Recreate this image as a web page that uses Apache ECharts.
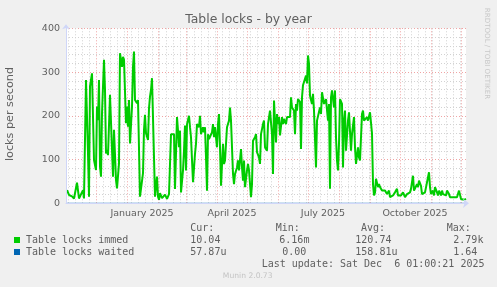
<!DOCTYPE html>
<html><head><meta charset="utf-8">
<script src="https://cdn.jsdelivr.net/npm/echarts@6/dist/echarts.min.js"></script>
<style>html,body{margin:0;padding:0;background:#f0f0f0}#c{width:497px;height:287px}</style>
</head><body><div id="c"></div>
<script>
// ---- data ----
const startDate = '2024-11-01';
const dayCount = 401;
const xLabelDays = ['2025-01-16', '2025-04-16', '2025-07-16', '2025-10-16'];
const xLabelTexts = ['January 2025', 'April 2025', 'July 2025', 'October 2025'];
const yTicks = [0, 100, 200, 300, 400];

// day offsets from startDate
const days = [1,3,5,6,8,10,11,13,15,17,18,20,22,23,24,26,27,28,30,31,32,33,34,35,36,38,39,40,41,42,44,45,46,47,48,50,51,53,54,55,56,57,58,60,61,62,63,64,66,67,68,69,71,72,74,75,77,78,79,80,82,83,84,85,86,88,89,90,91,92,93,94,96,98,99,
101,103,105,107,108,109,111,112,113,114,115,117,118,119,120,121,123,124,125,127,129,130,131,133,134,135,137,138,139,140,141,142,143,145,146,147,148,149,151,152,153,154,155,157,158,159,160,161,163,164,165,167,168,169,171,172,173,175,176,177,178,179,181,182,183,185,186,187,189,190,191,193,194,195,197,198,199,201,202,203,
204,206,207,208,210,211,212,213,214,216,217,218,220,221,222,224,225,226,228,229,230,231,232,234,235,236,237,238,240,241,242,243,244,246,247,248,250,251,252,254,255,256,258,259,260,262,263,264,265,266,268,269,270,271,272,273,274,276,277,278,279,280,282,283,284,285,286,288,289,290,292,293,294,296,297,298,300,301,302,304,305,306,307,308,309,310,312,313,314,
315,316,317,319,320,321,323,324,325,327,328,329,331,332,333,335,336,337,339,340,341,343,344,345,347,348,349,351,352,353,355,356,357,359,360,361,363,364,365,367,368,369,371,372,373,375,376,377,379,380,381,383,384,385,387,388,389,391,392,393,394,395,397,398,399,400];
// Table locks immed (locks per second)
const immed = [30,19,20,16,11,12,47,11,11,30,11,282,114,15,267,297,300,99,76,221,190,282,84,61,206,328,259,114,122,110,248,248,245,61,168,53,34,91,343,328,312,335,328,183,221,175,236,137,221,312,347,236,229,236,15,15,69,168,202,160,145,217,244,259,286,286,15,38,61,15,8,23,12,8,20,
10,21,158,158,158,33,197,166,128,166,25,75,120,178,75,181,200,174,151,48,113,136,181,174,200,158,174,162,174,105,29,158,147,147,162,181,151,174,128,181,204,128,40,136,90,98,136,174,189,219,189,67,44,67,82,98,75,124,82,52,98,37,75,90,75,14,44,143,151,158,117,105,90,158,181,189,128,120,181,185,
212,158,67,235,139,204,181,197,155,197,181,193,181,197,200,197,242,219,212,158,227,212,238,232,124,242,270,274,292,274,338,319,246,227,250,212,82,189,189,219,204,254,227,227,238,189,227,33,242,258,219,258,151,98,75,136,238,227,82,189,212,120,189,208,208,120,158,197,128,90,128,105,98,204,212,189,193,197,189,208,208,160,44,18,25,56,37,44,37,
40,29,33,29,33,21,29,14,14,18,21,25,33,18,14,18,18,25,14,18,21,18,25,33,63,29,29,44,37,52,40,21,25,25,25,21,71,37,21,29,18,37,25,18,29,18,29,21,25,18,29,21,14,14,14,14,18,14,14,29,33,10,10,8,10,10];
// Table locks waited (practically zero at this scale)
const waitedDays = [0, 400];
const waited = [0, 0];

const legendNames = ['Table locks immed', 'Table locks waited'];
const legendColors = ['#00cc00', '#0066b3'];
const statHeads = ['Cur:', 'Min:', 'Avg:', 'Max:'];
const statsImmed = ['10.04', '6.16m', '120.74', '2.79k'];
const statsWaited = ['57.87u', '0.00', '158.81u', '1.64'];
const lastUpdate = 'Last update: Sat Dec  6 01:00:21 2025';

// ---- build ----
const categories = [];
const t0 = Date.parse(startDate + 'T00:00:00Z');
for (let i = 0; i < dayCount; i++) categories.push(new Date(t0 + i * 86400000).toISOString().slice(0, 10));
const isSunday = v => new Date(v + 'T00:00:00Z').getUTCDay() === 0;
const isMonthStart = v => v.slice(8) === '01';

const FONT = 'DejaVu Sans';
const MONO = 'DejaVu Sans Mono';
const TXT = '#606060';
const AXIS = '#CFD6F8';

function hiddenX(extra) {
  return Object.assign({
    type: 'category', data: categories, boundaryGap: false,
    axisLine: {show: false}, axisTick: {show: false}, axisLabel: {show: false}, z: 0
  }, extra);
}

const statX = [190.3, 275.7, 361, 446.7];
const immedX = [190.3, 279.3, 355.3, 453.3];
const waitedX = [190.3, 282.3, 355.3, 453.3];
const graphic = [];
function txt(x, y, s, o) {
  graphic.push({type: 'text', x: x, y: y, silent: true, style: Object.assign({text: s, fill: TXT, font: '10px "' + MONO + '"', verticalAlign: 'middle'}, o || {})});
}
statHeads.forEach((h, i) => txt(statX[i], 228, h));
legendNames.forEach((n, r) => {
  const y = 240 + r * 12;
  graphic.push({type: 'rect', shape: {x: 14, y: y - 3, width: 6, height: 6}, style: {fill: legendColors[r]}, silent: true});
  txt(26, y, n);
  const vals = r === 0 ? statsImmed : statsWaited;
  const xs = r === 0 ? immedX : waitedX;
  vals.forEach((v, i) => txt(xs[i], y, v));
});
txt(261.7, 264, lastUpdate);
// title, unit, watermarks
graphic.push({type: 'text', x: 248.5, y: 19.5, silent: true, style: {text: 'Table locks - by year', fill: TXT, font: '12.4px "' + FONT + '"', align: 'center', verticalAlign: 'middle'}});
graphic.push({type: 'text', x: 10.5, y: 114, rotation: Math.PI / 2, silent: true, style: {text: 'locks per second', fill: TXT, font: '11.2px "' + FONT + '"', align: 'center', verticalAlign: 'middle'}});
graphic.push({type: 'text', x: 486.7, y: 53.5, rotation: -Math.PI / 2, silent: true, style: {text: 'RRDTOOL / TOBI OETIKER', fill: '#c8c8c8', font: '7.1px "' + FONT + '"', align: 'center', verticalAlign: 'middle'}});
graphic.push({type: 'text', x: 247.7, y: 276, silent: true, style: {text: 'Munin 2.0.73', fill: '#c4c4c4', font: '7.6px "' + FONT + '"', align: 'center', verticalAlign: 'middle'}});

const chart = echarts.init(document.getElementById('c'), null, {renderer: 'canvas'});
chart.setOption({
  animation: false,
  backgroundColor: '#f0f0f0',
  grid: {left: 66, right: 31, top: 28.3, bottom: 83.7, backgroundColor: '#ffffff', show: true, borderWidth: 0, outerBoundsMode: 'none'},
  xAxis: [
    {
      type: 'category', data: categories, boundaryGap: false, z: 10,
      axisLine: {show: true, lineStyle: {color: AXIS, width: 1}, symbol: ['none', 'arrow'], symbolSize: [7, 6], symbolOffset: [0, 3]},
      axisTick: {show: false},
      splitLine: {show: false},
      axisLabel: {
        interval: (i, v) => xLabelDays.indexOf(v) >= 0,
        formatter: v => xLabelTexts[xLabelDays.indexOf(v)] || '',
        color: TXT, fontFamily: FONT, fontSize: 9.5, margin: 5
      }
    },
    hiddenX({splitLine: {show: true, interval: (i, v) => isSunday(v) && !isMonthStart(v), lineStyle: {color: '#d2d2d2', width: 1, type: [1, 2]}}}),
    hiddenX({splitLine: {show: true, interval: (i, v) => isMonthStart(v), lineStyle: {color: '#f0a4a4', width: 1, type: [1, 2]}}})
  ],
  yAxis: [
    {
      type: 'value', min: yTicks[0], max: yTicks[yTicks.length - 1], interval: 100, z: 10,
      axisLine: {show: true, lineStyle: {color: AXIS, width: 1}, symbol: ['none', 'arrow'], symbolSize: [6, 5], symbolOffset: [0, 4]},
      axisTick: {show: false}, splitLine: {show: false},
      axisLabel: {color: TXT, fontFamily: FONT, fontSize: 9.5, margin: 6}
    },
    {
      type: 'value', min: yTicks[0], max: yTicks[yTicks.length - 1], interval: 100, z: 0,
      axisLine: {show: false}, axisTick: {show: false}, axisLabel: {show: false},
      splitLine: {show: true, lineStyle: {color: '#f0a4a4', width: 1, type: [1, 2]}},
      minorTick: {show: false, splitNumber: 5},
      minorSplitLine: {show: true, lineStyle: {color: '#d2d2d2', width: 1, type: [1, 2]}}
    }
  ],
  series: [
    {
      name: legendNames[1], type: 'line', xAxisIndex: 0, yAxisIndex: 0, symbol: 'none', z: 2,
      lineStyle: {color: legendColors[1], width: 1},
      data: waitedDays.map((d, i) => [d, waited[i]])
    },
    {
      name: legendNames[0], type: 'line', xAxisIndex: 0, yAxisIndex: 0, symbol: 'none', z: 3,
      lineStyle: {color: legendColors[0], width: 2}, itemStyle: {color: legendColors[0]},
      data: days.map((d, i) => [d, immed[i]])
    }
  ],
  graphic: graphic
});
</script>
</body></html>
